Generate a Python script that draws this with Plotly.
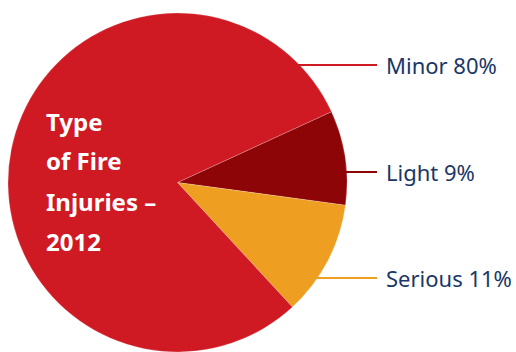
import math
import plotly.graph_objects as go

# Data
categories = ["Light", "Serious", "Minor"]
values = [9, 11, 80]
label_texts = ["Light 9%", "Serious 11%", "Minor 80%"]
colors = ["#8E0508", "#EE9E20", "#CF1A24"]
title_lines = ["Type", "of Fire", "Injuries –", "2012"]

W, H = 516, 352
mt, mb = 13, 0
plot_h = H - mt - mb
dom_w = 355
r = plot_h / 2
cx = dom_w / 2
cy = mt + r  # from top

fig = go.Figure(go.Pie(
    labels=categories, values=values, sort=False, direction="clockwise",
    rotation=65.3, textinfo="none", hoverinfo="label+percent",
    marker=dict(colors=colors, line=dict(color="rgba(255,255,255,0.35)", width=0.6)),
    domain=dict(x=[0, dom_w / W], y=[0, 1]), showlegend=False,
))

# label positions (pixel y from top)
label_y = {"Minor": 65, "Light": 172, "Serious": 278}
line_end_x = 377
text_x = 384
navy = "#183766"

shapes = []
annotations = []
for cat, txt, col in zip(categories, label_texts, colors):
    y = label_y[cat]
    dy = y - cy
    x_edge = cx + math.sqrt(max(r * r - dy * dy, 0)) - 2
    yp = 1 - (y - mt) / plot_h
    shapes.append(dict(type="line", xref="paper", yref="paper",
                       x0=x_edge / W, x1=line_end_x / W, y0=yp, y1=yp,
                       line=dict(color=col, width=2)))
    annotations.append(dict(text=txt, xref="paper", yref="paper", x=text_x / W, y=yp,
                            xanchor="left", yanchor="middle", showarrow=False,
                            font=dict(family="Noto Sans", size=22, color=navy)))

title_y = [121, 161, 201, 241]
for t, y in zip(title_lines, title_y):
    annotations.append(dict(text="<b>" + t + "</b>", xref="paper", yref="paper",
                            x=44 / W, y=1 - (y - mt) / plot_h,
                            xanchor="left", yanchor="middle", showarrow=False,
                            font=dict(family="Noto Sans", size=24, color="white")))

fig.update_layout(width=W, height=H, margin=dict(l=0, r=0, t=mt, b=mb),
                  paper_bgcolor="white", plot_bgcolor="white",
                  shapes=shapes, annotations=annotations)
fig.write_html("out.html", config={"displayModeBar": False},
               post_script="document.body.style.margin='0';")
